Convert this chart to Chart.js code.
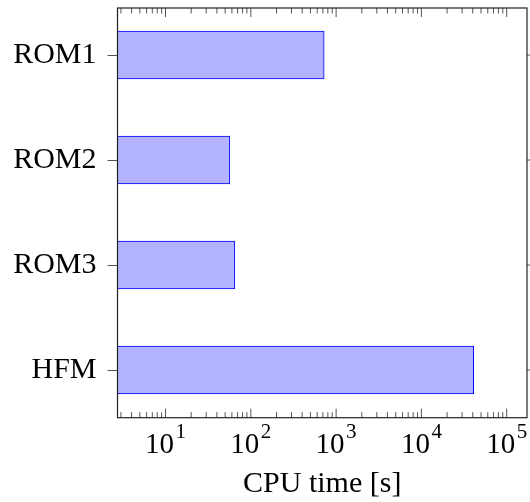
<!DOCTYPE html>
<html>
<head>
<meta charset="utf-8">
<script src="https://cdn.jsdelivr.net/npm/chart.js@4"></script>
<style>
  html, body { margin: 0; padding: 0; background: #fff; }
  canvas { display: block; }
</style>
</head>
<body>
<canvas id="c" width="530" height="502"></canvas>
<script>
// Model runs and their CPU time in seconds
const categories = ['ROM1', 'ROM2', 'ROM3', 'HFM'];
const cpuTime = [724, 56.8, 65, 41000];

// Log axis: decade ticks and their exponents
const majorTicks = [10, 100, 1000, 10000, 100000];
const tickExponents = ['1', '2', '3', '4', '5'];
const xLimits = [2.735, 1.73e5];

const SERIF = "'Liberation Serif', 'DejaVu Serif', serif";

// Box frame, inward log ticks, outer right ticks and 10^n labels
const framePlugin = {
  id: 'frame',
  afterDatasetsDraw(chart) {
    const { ctx, chartArea: a, scales: { x, y } } = chart;
    ctx.save();
    ctx.strokeStyle = '#555';
    ctx.lineWidth = 1;
    ctx.beginPath();
    x.ticks.forEach(t => {
      const px = x.getPixelForValue(t.value);
      const len = t.major ? 9 : 5.5;
      ctx.moveTo(px, a.bottom);
      ctx.lineTo(px, a.bottom - len);
      ctx.moveTo(px, a.top);
      ctx.lineTo(px, a.top + len);
    });
    y.ticks.forEach(t => {
      const py = y.getPixelForValue(t.value);
      ctx.moveTo(a.right, py);
      ctx.lineTo(a.right + 10, py);
    });
    ctx.stroke();

    ctx.strokeStyle = '#222';
    ctx.lineWidth = 1.2;
    ctx.strokeRect(a.left, a.top, a.right - a.left, a.bottom - a.top);

    // decade labels with raised exponents
    ctx.fillStyle = '#000';
    ctx.textBaseline = 'alphabetic';
    ctx.textAlign = 'left';
    const baseY = a.bottom + 35.5;
    majorTicks.forEach((v, i) => {
      const px = x.getPixelForValue(v);
      ctx.font = `29px ${SERIF}`;
      const wBase = ctx.measureText('10').width;
      ctx.font = `21px ${SERIF}`;
      const wExp = ctx.measureText(tickExponents[i]).width;
      const gap = 1.5;
      const left = px - (wBase + gap + wExp) / 2;
      ctx.font = `29px ${SERIF}`;
      ctx.fillText('10', left, baseY);
      ctx.font = `21px ${SERIF}`;
      ctx.fillText(tickExponents[i], left + wBase + gap, baseY - 15);
    });
    ctx.restore();
  }
};

new Chart(document.getElementById('c'), {
  type: 'bar',
  data: {
    datasets: [{
      data: categories.map((c, i) => ({ x: cpuTime[i], y: i })),
      backgroundColor: 'rgb(179,179,255)',
      borderColor: 'rgb(0,0,255)',
      borderWidth: 1,
      borderSkipped: 'start',
      barThickness: 48
    }]
  },
  options: {
    indexAxis: 'y',
    responsive: false,
    animation: false,
    events: [],
    layout: { padding: { top: 8, right: 3, left: 0, bottom: 0 } },
    plugins: { legend: { display: false }, tooltip: { enabled: false } },
    scales: {
      x: {
        type: 'logarithmic',
        position: 'bottom',
        min: xLimits[0],
        max: xLimits[1],
        bounds: 'data',
        grid: { display: false },
        border: { display: false },
        ticks: { display: false },
        afterBuildTicks(scale) {
          const ticks = [];
          for (let e = 0; e <= 5; e++) {
            for (let m = 1; m <= 9; m++) {
              const v = m * Math.pow(10, e);
              if (v >= scale.min && v <= scale.max) ticks.push({ value: v, major: m === 1 });
            }
          }
          scale.ticks = ticks;
        },
        afterFit(scale) {
          scale.height = 84.3;
          scale.paddingLeft = 0;
          scale.paddingRight = 0;
        },
        title: {
          display: true,
          text: 'CPU time [s]',
          color: '#000',
          font: { family: SERIF, size: 30 },
          padding: { top: 0, bottom: 0 }
        }
      },
      y: {
        type: 'linear',
        reverse: true,
        offset: false,
        min: -0.448,
        max: 3.454,
        bounds: 'data',
        afterBuildTicks(scale) {
          scale.ticks = categories.map((c, i) => ({ value: i }));
        },
        afterFit(scale) {
          scale.width = 117.5;
          scale.paddingTop = 0;
          scale.paddingBottom = 0;
        },
        grid: { offset: false, drawOnChartArea: false, drawTicks: true, tickLength: 10, color: '#555', lineWidth: 1 },
        border: { display: false },
        ticks: {
          autoSkip: false,
          padding: 11,
          color: '#000',
          font: { family: SERIF, size: 30 },
          callback: (v) => categories[v] ?? ''
        }
      }
    }
  },
  plugins: [framePlugin]
});
</script>
</body>
</html>
